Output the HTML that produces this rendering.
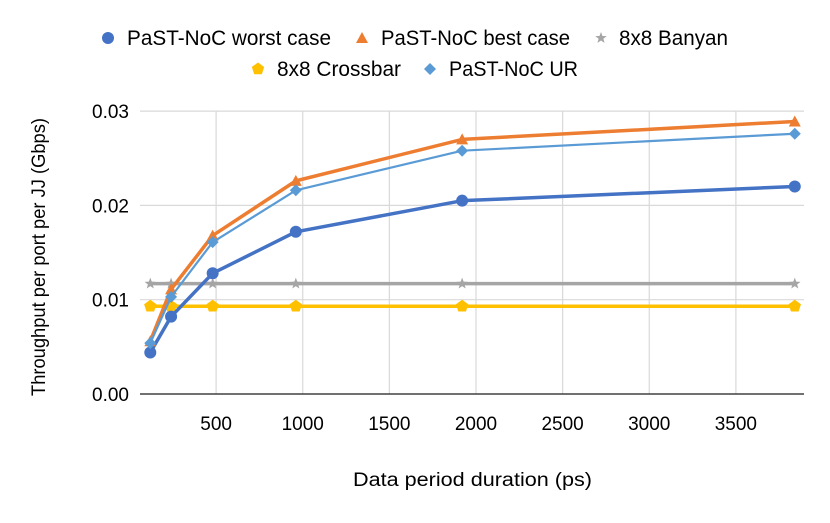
<!DOCTYPE html>
<html><head><meta charset="utf-8"><style>
body{margin:0;background:#fff;width:830px;height:518px;overflow:hidden;font-family:"Liberation Sans",sans-serif}
svg text{font-family:"Liberation Sans",sans-serif;fill:#000}
</style></head><body>
<svg id="chart" width="830" height="518" xmlns="http://www.w3.org/2000/svg"></svg>
<script>
const xCategories=[120,240,480,960,1920,3840];
const worstCase=[0.0044,0.0082,0.0128,0.0172,0.0205,0.0220];
const bestCase=[0.0056,0.0111,0.0168,0.0226,0.0270,0.0289];
const banyan=[0.0117,0.0117,0.0117,0.0117,0.0117,0.0117];
const crossbar=[0.0093,0.0093,0.0093,0.0093,0.0093,0.0093];
const urCase=[0.0054,0.0103,0.0161,0.0216,0.0258,0.0276];
const xTicks=[500,1000,1500,2000,2500,3000,3500];
const yTicks=[0,0.01,0.02,0.03];
const yTickLabels=["0.00","0.01","0.02","0.03"];

const NS="http://www.w3.org/2000/svg";
const svg=document.getElementById('chart');
const X=v=>129.5+v*0.17325;
const Y=v=>394-v*9430;
function el(tag,attrs,parent){const e=document.createElementNS(NS,tag);for(const k in attrs)e.setAttribute(k,attrs[k]);(parent||svg).appendChild(e);return e;}

const grid=el('g',{});


yTicks.forEach((t,i)=>{
  if(t>0){const l=el('line',{x1:140,x2:804,y1:Y(t),y2:Y(t),stroke:'#d9d9d9','stroke-width':1.2},grid);
  
  }
  const tx=el('text',{x:129,y:Y(t)+7,'text-anchor':'end','font-size':19});
  tx.textContent=yTickLabels[i];
  
  
});
xTicks.forEach(t=>{
  const l=el('line',{x1:X(t),x2:X(t),y1:111,y2:394,stroke:'#d9d9d9','stroke-width':1.2},grid);
  
  
  const tx=el('text',{x:X(t),y:430,'text-anchor':'middle','font-size':19});
  tx.textContent=t;
  
  
});
const ax=el('line',{x1:140,x2:804,y1:394,y2:394,stroke:'#404040','stroke-width':1.5});



function marker(type,cx,cy,color,g){
  let m;
  if(type==='circle')m=el('circle',{cx,cy,r:6,fill:color},g);
  else if(type==='tri')m=el('polygon',{points:`${cx},${cy-6} ${cx+6},${cy+5} ${cx-6},${cy+5}`,fill:color},g);
  else if(type==='diamond')m=el('polygon',{points:`${cx},${cy-6} ${cx+6},${cy} ${cx},${cy+6} ${cx-6},${cy}`,fill:color},g);
  else if(type==='pent')m=el('polygon',{points:[0,1,2,3,4].map(i=>{const a=-Math.PI/2+i*2*Math.PI/5;return (cx+6.5*Math.cos(a))+','+(cy+6.5*Math.sin(a));}).join(' '),fill:color},g);
  else {let p=[];for(let i=0;i<10;i++){const a=-Math.PI/2+i*Math.PI/5,r=i%2?2.5:6;p.push((cx+r*Math.cos(a))+','+(cy+r*Math.sin(a)));}m=el('polygon',{points:p.join(' '),fill:color},g);}
  return m;
}
const series=[
  {name:'banyan',vals:banyan,color:'#a5a5a5',w:3.5,m:'star'},
  {name:'crossbar',vals:crossbar,color:'#ffc000',w:3.5,m:'pent'},
  {name:'worst-case',vals:worstCase,color:'#4472c4',w:3.5,m:'circle'},
  {name:'best-case',vals:bestCase,color:'#ed7d31',w:3.5,m:'tri'},
  {name:'ur',vals:urCase,color:'#5b9bd5',w:2.2,m:'diamond'},
];
series.forEach(s=>{
  const g=el('g',{});
  
  
  const pl=el('polyline',{points:s.vals.map((v,i)=>X(xCategories[i])+','+Y(v)).join(' '),fill:'none',stroke:s.color,'stroke-width':s.w,'stroke-linejoin':'round'},g);
  
  
  s.vals.forEach((v,i)=>{
    const m=marker(s.m,X(xCategories[i]),Y(v),s.color,g);
    
    
  });
});
const legend=[
  ['circle','#4472c4','PaST-NoC worst case',108,38,127,204],
  ['tri','#ed7d31','PaST-NoC best case',362,38,381,189],
  ['star','#a5a5a5','8x8 Banyan',601,38,619,109],
  ['pent','#ffc000','8x8 Crossbar',258,69,277,124],
  ['diamond','#5b9bd5','PaST-NoC UR',430,69,449,129],
];
legend.forEach(l=>{
  const g=el('g',{});
  
  
  marker(l[0],l[3],l[4],l[1],g);
  const t=el('text',{x:l[5],y:l[4]+7,'font-size':21,textLength:l[6],lengthAdjust:'spacingAndGlyphs'},g);
  t.textContent=l[2];
});
const xt=el('text',{x:353,y:486,'font-size':19,textLength:239,lengthAdjust:'spacingAndGlyphs'});
xt.textContent='Data period duration (ps)';


const yt=el('text',{x:0,y:0,'font-size':19,textLength:278,lengthAdjust:'spacingAndGlyphs',transform:'translate(45,396) rotate(-90)'});
yt.textContent='Throughput per port per JJ (Gbps)';


</script>
</body></html>
